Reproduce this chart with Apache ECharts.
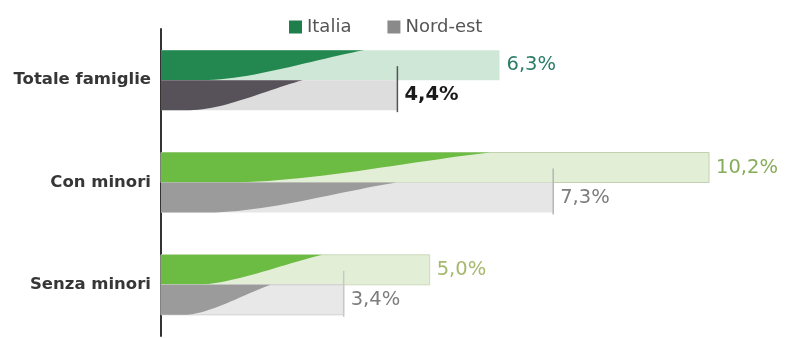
<!DOCTYPE html>
<html>
<head>
<meta charset="utf-8">
<script src="https://cdn.jsdelivr.net/npm/echarts@6/dist/echarts.min.js"></script>
<style>
  html, body { margin: 0; padding: 0; background: #fff; }
  #chart { width: 785px; height: 338px; }
</style>
</head>
<body>
<div id="chart"></div>
<script>
// Share of households, by household type
const categories = ['Totale famiglie', 'Con minori', 'Senza minori'];
const italia = [6.3, 10.2, 5.0];
const nordEst = [4.4, 7.3, 3.4];
const seriesNames = ['Italia', 'Nord-est'];

// Per-category styling of each series (index = category)
const styles = {
  'Italia': {
    legend: '#1f7f4a',
    side: -1,
    dark: ['#22884f', '#6cbb42', '#6cbb42'],
    light: ['#cfe7d7', '#e2eed5', '#e2eed5'],
    edge: [null, '#c2d2b0', '#cdd9bd'],
    endLine: [null, null, null],
    label: ['#2c7d68', '#86ad5a', '#a6b86c'],
    weight: ['normal', 'normal', 'normal']
  },
  'Nord-est': {
    legend: '#8a8a8a',
    side: 1,
    dark: ['#57525a', '#9b9b9b', '#9b9b9b'],
    light: ['#dddddd', '#e6e6e6', '#e8e8e8'],
    edge: [null, null, '#d0d0d0'],
    endLine: ['#555555', '#b5b5b5', '#c8c8c8'],
    label: ['#1a1a1a', '#7d7d7d', '#7d7d7d'],
    weight: ['bold', 'normal', 'normal']
  }
};

const fmt = v => v.toFixed(1).replace('.', ',') + '%';

function cubic(p0, p1, p2, p3, t) {
  const u = 1 - t;
  return u * u * u * p0 + 3 * u * u * t * p1 + 3 * u * t * t * p2 + t * t * t * p3;
}

// Bar with a dark swoosh on its left part and the value at its end
function swooshBar(name) {
  const st = styles[name];
  return function (params, api) {
    const v = api.value(0);
    const c = api.value(1);
    const p0 = api.coord([0, c]);
    const p1 = api.coord([v, c]);
    const h = 30;
    const top = st.side < 0 ? p0[1] - h : p0[1];
    const bottom = top + h;
    const x0 = p0[0], x1 = p1[0], len = x1 - x0;
    const xt = x0 + len * 0.6, xb = x0 + len * 0.12, d = xt - xb;

    const pts = [[x0, top], [xt, top]];
    for (let i = 1; i <= 24; i++) {
      const t = i / 24;
      pts.push([
        cubic(xt, xt - 0.3 * d, xb + 0.3 * d, xb, t),
        cubic(top, top + 0.3 * h, bottom, bottom, t)
      ]);
    }
    pts.push([x0, bottom]);

    const children = [
      {
        type: 'rect',
        shape: { x: x0, y: top, width: len, height: h },
        style: { fill: st.light[c], stroke: st.edge[c] || null, lineWidth: 1 }
      },
      {
        type: 'polygon',
        shape: { points: pts },
        style: { fill: st.dark[c] }
      }
    ];
    if (st.endLine[c]) {
      children.push({
        type: 'line',
        shape: { x1: x1, y1: top - 14, x2: x1, y2: bottom + 2 },
        style: { stroke: st.endLine[c], lineWidth: 1.5 }
      });
    }
    children.push({
      type: 'text',
      x: x1 + 7,
      y: top + h / 2,
      style: {
        text: fmt(v),
        fill: st.label[c],
        fontFamily: 'DejaVu Sans',
        fontSize: 19.5,
        fontWeight: st.weight[c],
        align: 'left',
        verticalAlign: 'middle'
      }
    });
    return { type: 'group', children };
  };
}

const values = { 'Italia': italia, 'Nord-est': nordEst };

const chart = echarts.init(document.getElementById('chart'), null, { renderer: 'canvas' });
chart.setOption({
  animation: false,
  backgroundColor: '#ffffff',
  legend: {
    data: seriesNames,
    left: 284,
    top: 13,
    icon: 'rect',
    itemWidth: 13,
    itemHeight: 13,
    itemGap: 36,
    textStyle: { fontFamily: 'DejaVu Sans', fontSize: 18, color: '#555555' }
  },
  grid: { left: 161, right: 33, top: 29, bottom: 2 },
  xAxis: { type: 'value', min: 0, max: 11, show: false },
  yAxis: {
    type: 'category',
    data: categories,
    inverse: true,
    axisLine: { show: true, lineStyle: { color: '#333333', width: 2 } },
    axisTick: { show: false },
    splitLine: { show: false },
    axisLabel: {
      margin: 10,
      fontFamily: 'DejaVu Sans',
      fontSize: 16.5,
      fontWeight: 'bold',
      color: '#363636'
    }
  },
  series: seriesNames.map(name => ({
    name: name,
    type: 'custom',
    itemStyle: { color: styles[name].legend },
    encode: { x: 0, y: 1 },
    renderItem: swooshBar(name),
    data: values[name].map((v, i) => [v, i])
  }))
});
</script>
</body>
</html>
